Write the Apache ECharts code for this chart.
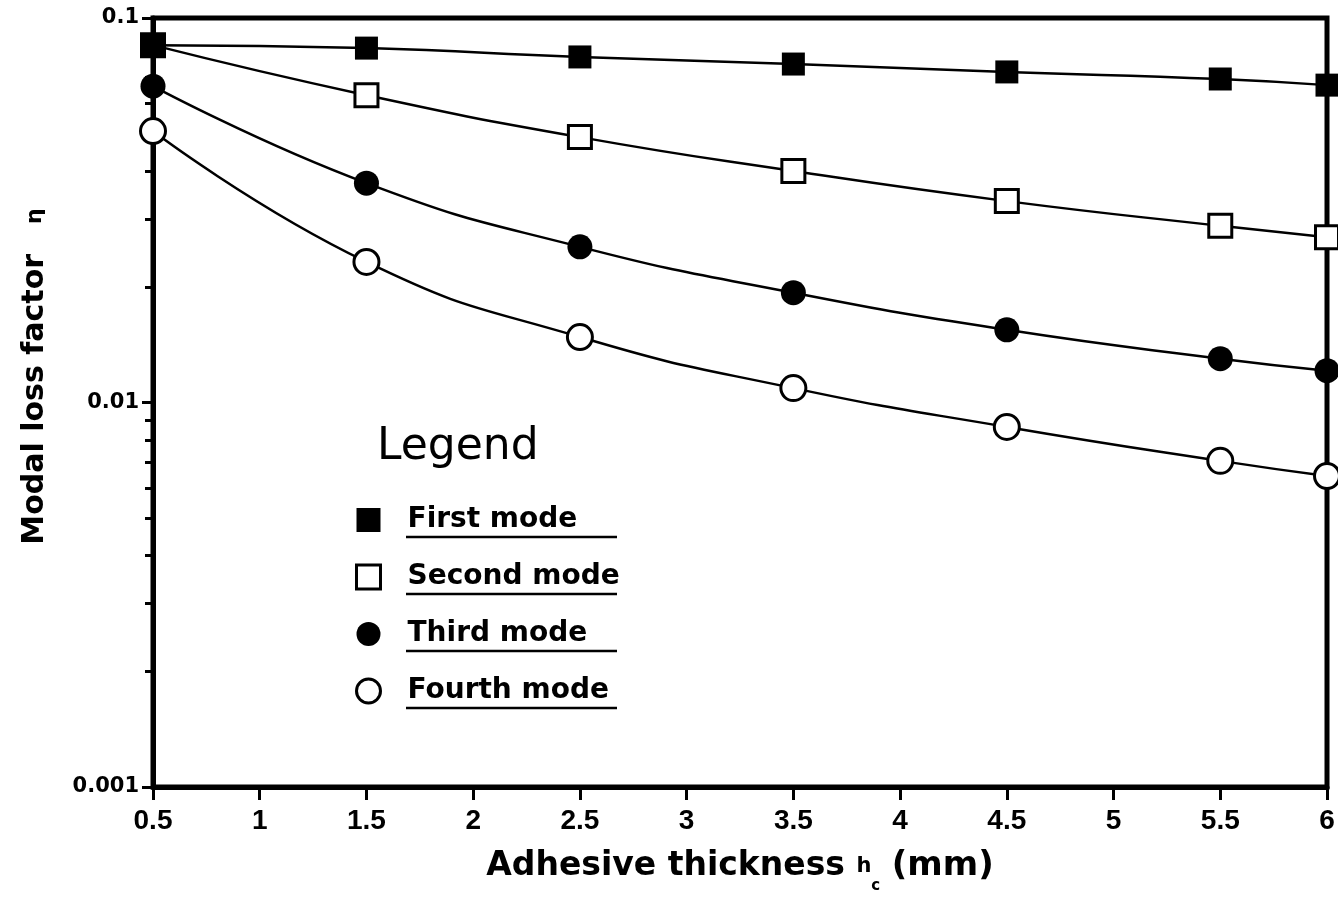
<!DOCTYPE html>
<html>
<head>
<meta charset="utf-8">
<script src="https://cdn.jsdelivr.net/npm/echarts@6/dist/echarts.min.js"></script>
<style>
  html, body { margin: 0; padding: 0; background: #fff; }
  #chart { width: 1338px; height: 898px; }
</style>
</head>
<body>
<div id="chart"></div>
<script>
// adhesive thickness (mm)
const thickness = [0.5, 1.5, 2.5, 3.5, 4.5, 5.5, 6];
// modal loss factor per mode
const firstMode = [0.085, 0.0835, 0.0792, 0.0759, 0.0724, 0.0694, 0.0669];
const secondMode = [0.085, 0.063, 0.049, 0.040, 0.0334, 0.0288, 0.0269];
const thirdMode = [0.0665, 0.0372, 0.0254, 0.0193, 0.01545, 0.0130, 0.0121];
const fourthMode = [0.0508, 0.0232, 0.0148, 0.0109, 0.00864, 0.00705, 0.00644];
const seriesNames = ['First mode', 'Second mode', 'Third mode', 'Fourth mode'];
const minorTicks = [0.002, 0.003, 0.004, 0.005, 0.006, 0.007, 0.008, 0.009,
  0.02, 0.03, 0.04, 0.05, 0.06, 0.07, 0.08, 0.09];

const chart = echarts.init(document.getElementById('chart'), null, { renderer: 'canvas' });

const BOLD = 'DejaVu Sans';

function pairs(ys) {
  return thickness.map((x, i) => [x, ys[i]]);
}

function mkSeries(name, ys, symbol, filled, size, z) {
  return {
    name: name,
    type: 'line',
    data: pairs(ys),
    smooth: 0.5,
    symbol: symbol,
    symbolSize: size,
    clip: false,
    z: z,
    lineStyle: { color: '#000', width: 2.5 },
    itemStyle: filled
      ? { color: '#000', borderColor: '#000', borderWidth: 0 }
      : { color: '#fff', borderColor: '#000', borderWidth: 3 }
  };
}

const option = {
  backgroundColor: '#fff',
  animation: false,
  grid: {
    left: 153, right: 11, top: 18, bottom: 111,
    outerBoundsMode: 'none',
    containLabel: false,
    show: true, borderColor: '#000', borderWidth: 5, backgroundColor: 'transparent'
  },
  xAxis: {
    type: 'value',
    min: 0.5, max: 6, interval: 0.5,
    name: 'Adhesive thickness {h|h}{c|c} {p|(mm)}',
    nameLocation: 'middle',
    nameGap: 52,
    nameTextStyle: {
      fontFamily: BOLD, fontWeight: 'bold', fontSize: 33, color: '#000',
      rich: {
        h: { fontFamily: BOLD, fontWeight: 'bold', fontSize: 21, color: '#000' },
        c: { fontFamily: BOLD, fontWeight: 'bold', fontSize: 15, color: '#000', padding: [40, 0, 0, 0] },
        p: { fontFamily: BOLD, fontWeight: 'bold', fontSize: 34, color: '#000' }
      }
    },
    axisLine: { show: true, onZero: false, lineStyle: { color: '#000', width: 5 } },
    axisTick: { show: true, inside: false, length: 13, lineStyle: { color: '#000', width: 3 } },
    axisLabel: {
      margin: 20, color: '#000', fontFamily: 'Liberation Sans', fontWeight: 'bold', fontSize: 28,
      formatter: v => String(v)
    },
    splitLine: { show: false }
  },
  yAxis: [{
    type: 'log',
    logBase: 10,
    min: 0.001, max: 0.1,
    name: 'Modal loss factor{eta|η}',
    nameLocation: 'middle',
    nameRotate: 90,
    nameGap: 103,
    nameTextStyle: {
      fontFamily: BOLD, fontWeight: 'bold', fontSize: 30, color: '#000',
      padding: [0, 0, 0, 52],
      rich: { eta: { fontFamily: BOLD, fontSize: 22, color: '#000', padding: [0, 0, 0, 30] } }
    },
    axisLine: { show: true, lineStyle: { color: '#000', width: 5 } },
    axisTick: { show: true, inside: false, length: 11, lineStyle: { color: '#000', width: 3 } },
    axisLabel: {
      margin: 14, color: '#000', fontFamily: BOLD, fontWeight: 'bold', fontSize: 21,
      formatter: v => String(+v.toPrecision(3))
    },
    splitLine: { show: false }
  }, {
    // minor ticks only
    type: 'log',
    logBase: 10,
    min: 0.001, max: 0.1,
    position: 'left',
    axisLine: { show: false },
    axisTick: {
      show: true, inside: false, length: 8, customValues: minorTicks,
      lineStyle: { color: '#000', width: 3 }
    },
    axisLabel: { show: false },
    splitLine: { show: false }
  }],
  legend: {
    orient: 'vertical',
    left: 355,
    top: 506,
    padding: 0,
    itemWidth: 24,
    itemHeight: 24,
    itemGap: 29,
    selectedMode: false,
    textStyle: {
      fontFamily: BOLD, fontWeight: 'bold', fontSize: 28, color: '#000',
      lineHeight: 24, padding: [0, 0, 0, 22]
    },
    data: [
      { name: seriesNames[0], icon: 'rect', itemStyle: { color: '#000', borderWidth: 0 } },
      { name: seriesNames[1], icon: 'rect', itemStyle: { color: '#fff', borderColor: '#000', borderWidth: 3 } },
      { name: seriesNames[2], icon: 'circle', itemStyle: { color: '#000', borderWidth: 0 } },
      { name: seriesNames[3], icon: 'circle', itemStyle: { color: '#fff', borderColor: '#000', borderWidth: 3 } }
    ]
  },
  graphic: [
    { type: 'text', left: 377, top: 426, style: { text: 'Legend', font: '44px "DejaVu Sans"', fill: '#000' } },
    { type: 'line', shape: { x1: 406, y1: 537, x2: 617, y2: 537 }, style: { stroke: '#000', lineWidth: 2.5 } },
    { type: 'line', shape: { x1: 406, y1: 594, x2: 617, y2: 594 }, style: { stroke: '#000', lineWidth: 2.5 } },
    { type: 'line', shape: { x1: 406, y1: 651, x2: 617, y2: 651 }, style: { stroke: '#000', lineWidth: 2.5 } },
    { type: 'line', shape: { x1: 406, y1: 708, x2: 617, y2: 708 }, style: { stroke: '#000', lineWidth: 2.5 } }
  ],
  series: [
    mkSeries(seriesNames[0], firstMode, 'rect', true, 23, 8),
    mkSeries(seriesNames[1], secondMode, 'rect', false, 23, 5),
    mkSeries(seriesNames[2], thirdMode, 'circle', true, 25, 7),
    mkSeries(seriesNames[3], fourthMode, 'circle', false, 25, 6)
  ]
};

chart.setOption(option);
</script>
</body>
</html>
